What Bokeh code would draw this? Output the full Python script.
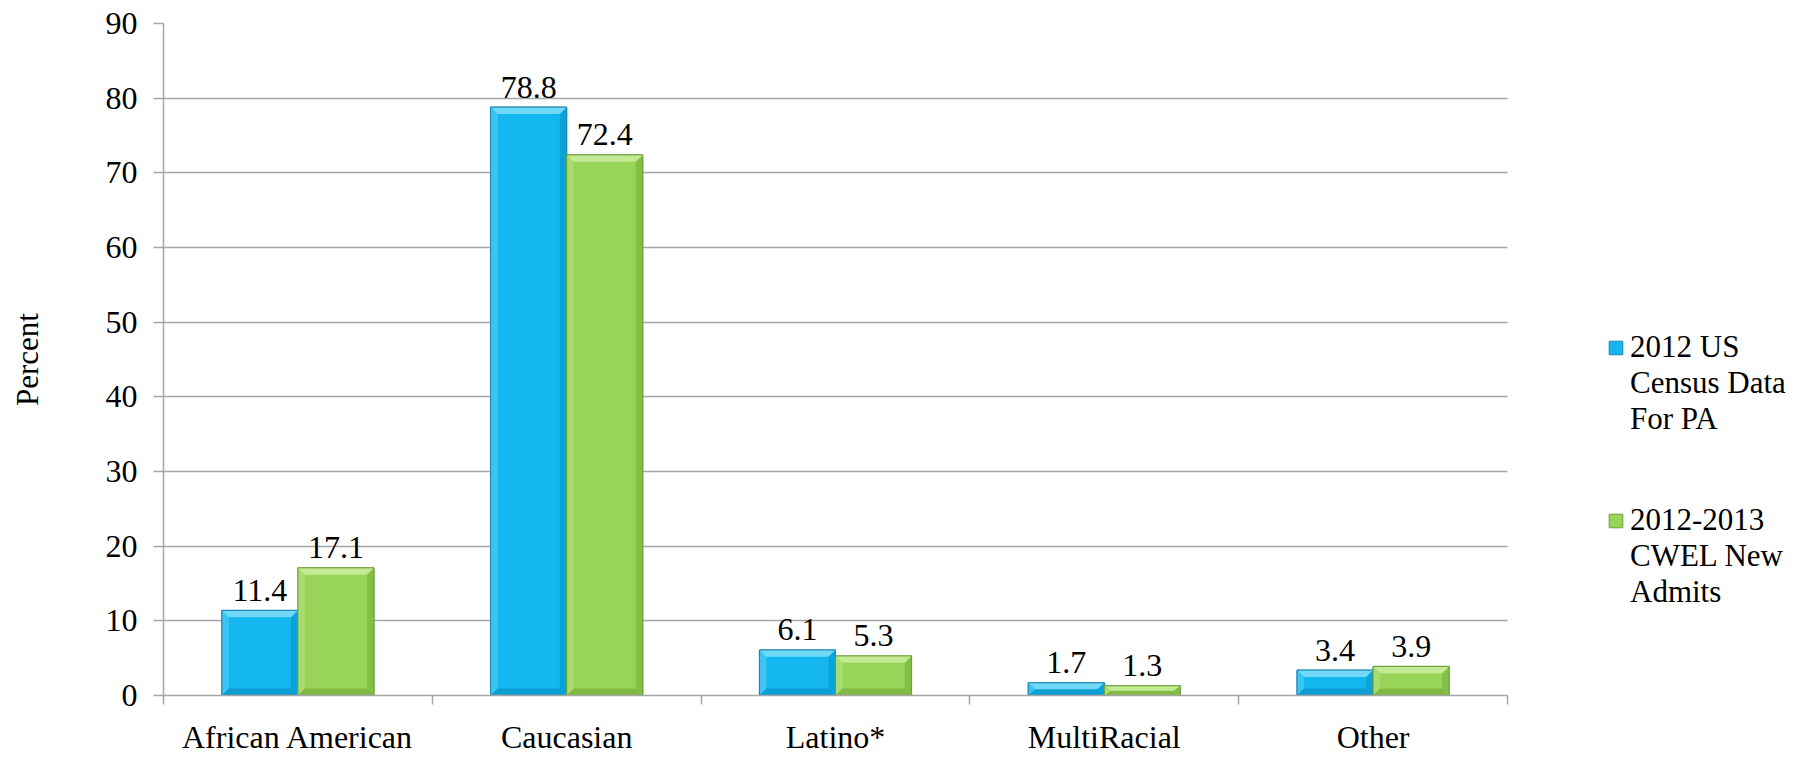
from bokeh.plotting import figure
from bokeh.models import Range1d, FixedTicker, Legend, LegendItem, ColumnDataSource
from bokeh.core.properties import value
from bokeh.embed import file_html
from bokeh.resources import INLINE

categories = ["African American", "Caucasian", "Latino*", "MultiRacial", "Other"]
series_lines = [["2012 US", "Census Data", "For PA"], ["2012-2013", "CWEL New", "Admits"]]
census_pa = [11.4, 78.8, 6.1, 1.7, 3.4]
cwel_admits = [17.1, 72.4, 5.3, 1.3, 3.9]
y_ticks = [0, 10, 20, 30, 40, 50, 60, 70, 80, 90]

FONT = "Liberation Serif"
GRID = "#a6a6a6"

styles = [
    dict(main="#14b6ef", top="#72d8f8", left="#3cc4f3", right="#0aa3d8", bottom="#0c9dd2", line="#1a86b3"),
    dict(main="#98d458", top="#c4ea94", left="#a8dc6e", right="#82bf46", bottom="#7fb944", line="#6e9e3c"),
]

W, H = 1811, 757
ML, MR, MT, MB = 163, 10, 23, 53
AX_RIGHT = 1507
frame_h = H - MT - MB
n = len(categories)
px_per_x = (AX_RIGHT - ML) / n
x_end = (W - MR - ML) / px_per_x

p = figure(width=W, height=H, x_range=Range1d(0, x_end), y_range=Range1d(0, 90),
           output_backend="svg", toolbar_location=None,
           min_border_left=ML, min_border_right=MR, min_border_top=MT, min_border_bottom=MB)
p.outline_line_color = None
p.xgrid.grid_line_color = None
p.ygrid.grid_line_color = GRID
p.ygrid.grid_line_width = 1.5
p.ygrid.ticker = FixedTicker(ticks=y_ticks)
p.ygrid.cross_bounds = (0, n)

p.yaxis.ticker = FixedTicker(ticks=y_ticks)
p.yaxis.axis_line_color = GRID
p.yaxis.axis_line_width = 1.5
p.yaxis.major_tick_line_color = GRID
p.yaxis.major_tick_line_width = 1.5
p.yaxis.major_tick_out = 10
p.yaxis.major_tick_in = 0
p.yaxis.minor_tick_line_color = None
p.yaxis.major_label_text_font = FONT
p.yaxis.major_label_text_font_size = "32px"
p.yaxis.major_label_text_color = "black"
p.yaxis.major_label_standoff = 16
p.yaxis.axis_label = "Percent"
p.yaxis.axis_label_text_font = FONT
p.yaxis.axis_label_text_font_size = "31px"
p.yaxis.axis_label_text_font_style = "normal"
p.yaxis.axis_label_text_color = "black"
p.yaxis.axis_label_standoff = 58

centers = [i + 0.5 for i in range(n)]
bounds = list(range(n + 1))
p.xaxis.bounds = (0, n)
p.xaxis.ticker = FixedTicker(ticks=centers, minor_ticks=bounds)
p.xaxis.major_label_overrides = {c: name for c, name in zip(centers, categories)}
p.xaxis.axis_line_color = GRID
p.xaxis.axis_line_width = 1.5
p.xaxis.major_tick_line_color = None
p.xaxis.major_tick_out = 0
p.xaxis.major_tick_in = 0
p.xaxis.minor_tick_line_color = GRID
p.xaxis.minor_tick_line_width = 1.5
p.xaxis.minor_tick_out = 9
p.xaxis.minor_tick_in = 0
p.xaxis.major_label_text_font = FONT
p.xaxis.major_label_text_font_size = "32px"
p.xaxis.major_label_text_color = "black"
p.xaxis.major_label_standoff = 14

bar_w = 0.283
px_per_y = frame_h / 90.0
bev_px = 7

renderers = []
for si, vals in enumerate([census_pa, cwel_admits]):
    st = styles[si]
    offs = -bar_w / 2 if si == 0 else bar_w / 2
    xs = [c + offs for c in centers]
    src = ColumnDataSource(dict(x=xs, top=vals, label=["%.1f" % v for v in vals]))
    r = p.vbar(x="x", top="top", bottom=0, width=bar_w, source=src,
               fill_color=st["main"], line_color=st["line"], line_width=1)
    renderers.append(r)
    tops, bots, lefts, rights = [[], []], [[], []], [[], []], [[], []]
    for x, v in zip(xs, vals):
        x0, x1 = x - bar_w / 2, x + bar_w / 2
        dy = min(bev_px / px_per_y, v / 2.0)
        dx = bev_px / px_per_x
        tops[0].append([x0, x1, x1 - dx, x0 + dx]); tops[1].append([v, v, v - dy, v - dy])
        bots[0].append([x0, x1, x1 - dx, x0 + dx]); bots[1].append([0, 0, dy, dy])
        lefts[0].append([x0, x0 + dx, x0 + dx, x0]); lefts[1].append([0, dy, v - dy, v])
        rights[0].append([x1, x1 - dx, x1 - dx, x1]); rights[1].append([0, dy, v - dy, v])
    p.patches(lefts[0], lefts[1], fill_color=st["left"], line_color=None)
    p.patches(rights[0], rights[1], fill_color=st["right"], line_color=None)
    p.patches(bots[0], bots[1], fill_color=st["bottom"], line_color=None)
    p.patches(tops[0], tops[1], fill_color=st["top"], line_color=None)
    p.vbar(x="x", top="top", bottom=0, width=bar_w, source=src,
           fill_color=None, line_color=st["line"], line_width=1)
    p.text(x="x", y="top", text="label", source=src, text_align="center",
           text_baseline="alphabetic", y_offset=-20,
           text_font=value(FONT), text_font_size="32px", text_color="black")

# invisible renderer for continuation lines of wrapped legend labels
blank = p.vbar(x=[], top=[], width=0.1, fill_alpha=0, line_alpha=0)

legend_y = [258, 85]
for si in range(2):
    lines = series_lines[si]
    items = [LegendItem(label=lines[0], renderers=[renderers[si]])]
    items += [LegendItem(label=t, renderers=[blank]) for t in lines[1:]]
    lg = Legend(items=items, location=(1607 - ML, legend_y[si]))
    lg.border_line_color = None
    lg.background_fill_alpha = 0
    lg.padding = 0
    lg.margin = 0
    lg.spacing = 0
    lg.glyph_width = 17
    lg.glyph_height = 17
    lg.label_standoff = 6
    lg.label_text_font = FONT
    lg.label_text_font_size = "31px"
    lg.label_text_line_height = 1.18
    lg.label_text_color = "black"
    p.add_layout(lg)

open("out.html", "w").write(file_html(p, INLINE))
